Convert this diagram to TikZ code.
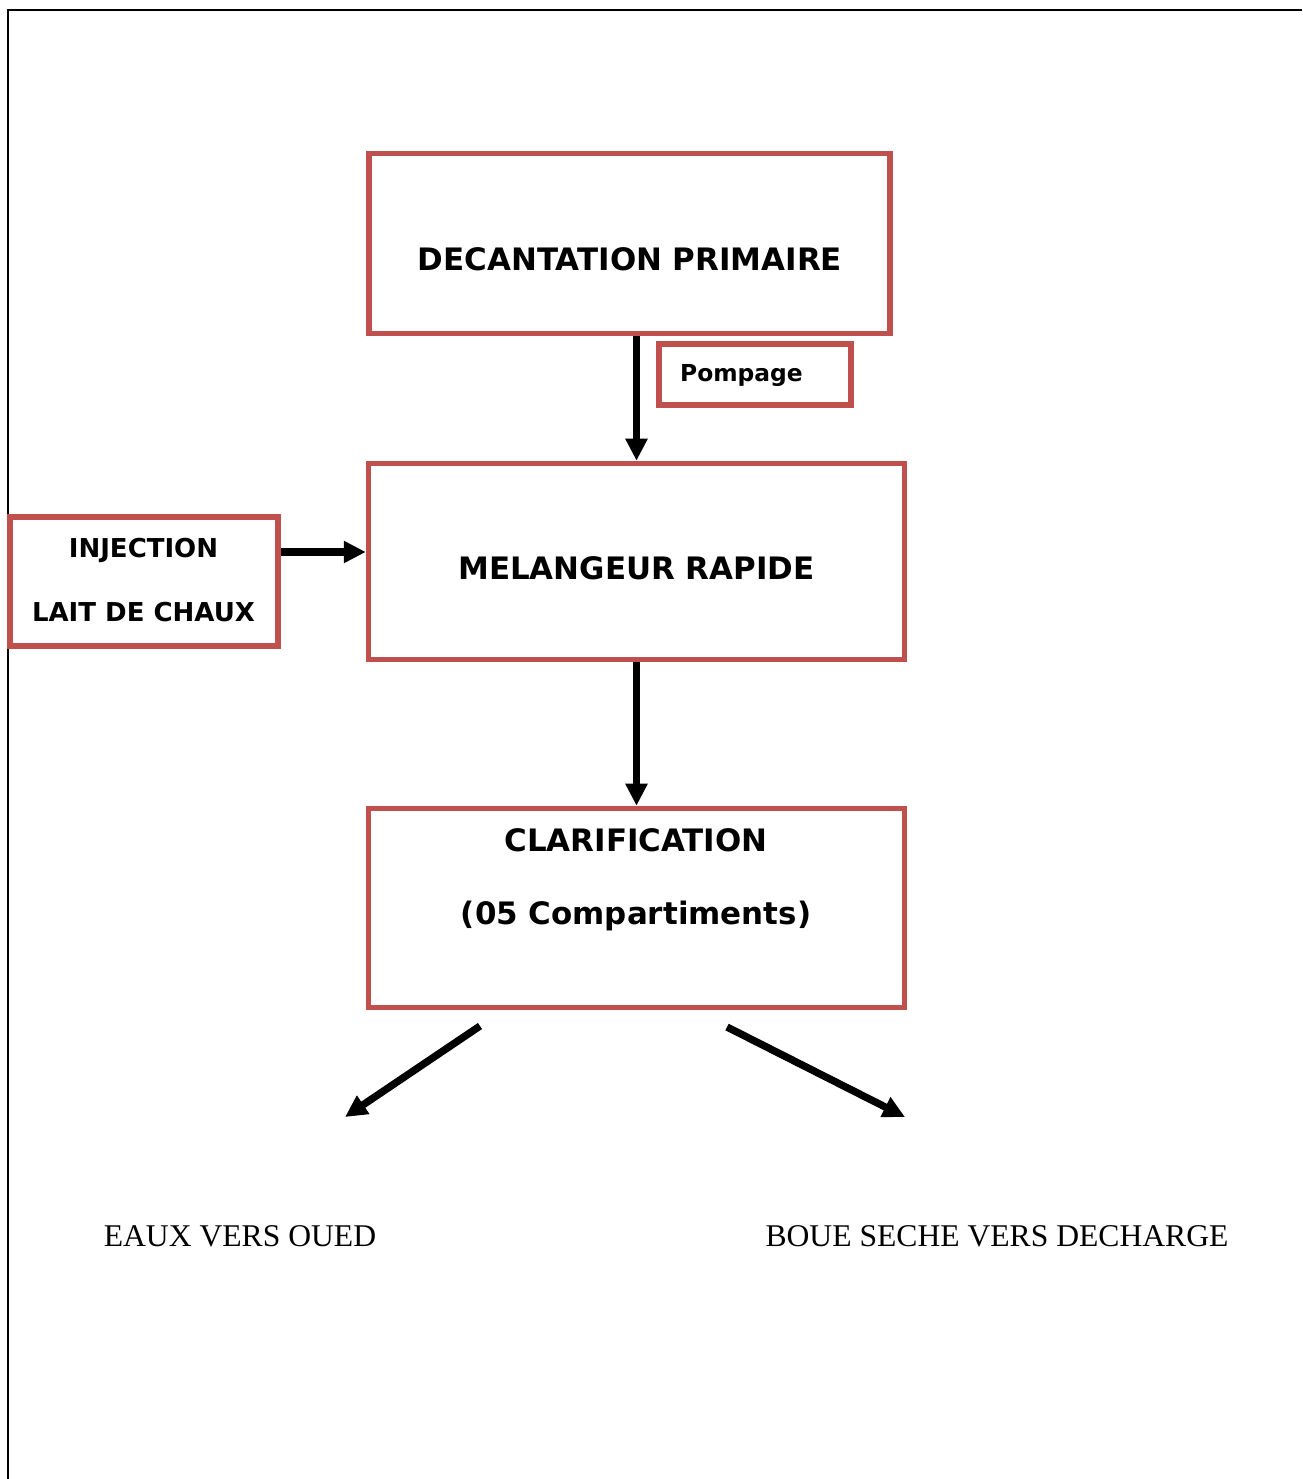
\documentclass[tikz,border=0pt]{standalone}
\usepackage{fontspec}
\setmainfont{DejaVu Sans}
\newfontfamily\timesface{Liberation Serif}
\usepackage{tikz}
\usetikzlibrary{arrows.meta}
\definecolor{boxred}{RGB}{192,80,77}
\tikzset{stage/.style={rectangle,draw=boxred,line width=3.2pt,inner sep=0pt},
         big text/.style={font=\fontsize{17.6}{41.4}\selectfont\bfseries,align=center},
         mid text/.style={font=\fontsize{14.8}{36.3}\selectfont\bfseries,align=center},
         small text/.style={font=\fontsize{13.3}{16}\selectfont\bfseries},
         out text/.style={font=\fontsize{18}{22}\selectfont\timesface},
         flow/.style={line width=4.2pt,-{Triangle[length=0.44cm,width=0.42cm]}},
            }

\begin{document}
\begin{tikzpicture}[x=0.02cm,y=-0.02cm]
	\useasboundingbox (0,0) rectangle (1302,1479);
	\draw[line width=0.9pt] (1302,10) -- (8,10) -- (8,1479);

	% boxes
	\node[stage,minimum width=10.42cm,minimum height=3.6cm] (decant) at (629.5,243.5) {};
	\node[stage,minimum width=3.84cm,minimum height=1.22cm] (pompage) at (755,374.5) {};
	\node[stage,minimum width=10.72cm,minimum height=3.92cm] (melange) at (636.5,561.5) {};
	\node[stage,minimum width=5.36cm,minimum height=2.58cm] (injection) at (144,581.5) {};
	\node[stage,minimum width=10.72cm,minimum height=3.98cm] (clarif) at (636.5,908) {};

	% texts
	\node[big text] (decant-txt) at (630,259) {DECANTATION PRIMAIRE};
	\node[small text] (pompage-txt) at (741.5,376) {Pompage};
	\node[big text] (melange-txt) at (636.5,568) {MELANGEUR RAPIDE};
	\node[mid text] (injection-txt) at (143.5,580) {INJECTION\\LAIT DE CHAUX};
	\node[big text] (clarif-txt) at (636,880) {CLARIFICATION\\(05 Compartiments)};
	\node[out text] (eaux-txt) at (240,1236) {EAUX VERS OUED};
	\node[out text] (boue-txt) at (997,1236) {BOUE SECHE VERS DECHARGE};

	% free ends of the outlets
	\coordinate (clarif-l) at (480,1026);
	\coordinate (clarif-r) at (727,1027);
	\coordinate (eaux) at (345,1117);
	\coordinate (boue) at (905,1117);

	\draw[flow] (decant.south -| melange.north) to (melange.north);
	\draw[flow] ([yshift=0.59cm]injection.east) to ([yshift=0.59cm]injection.east -| melange.west);
	\draw[flow] (melange.south) to (clarif.north);
	\draw[flow] (clarif-l) to (eaux);
	\draw[flow] (clarif-r) to (boue);
\end{tikzpicture}
\end{document}
